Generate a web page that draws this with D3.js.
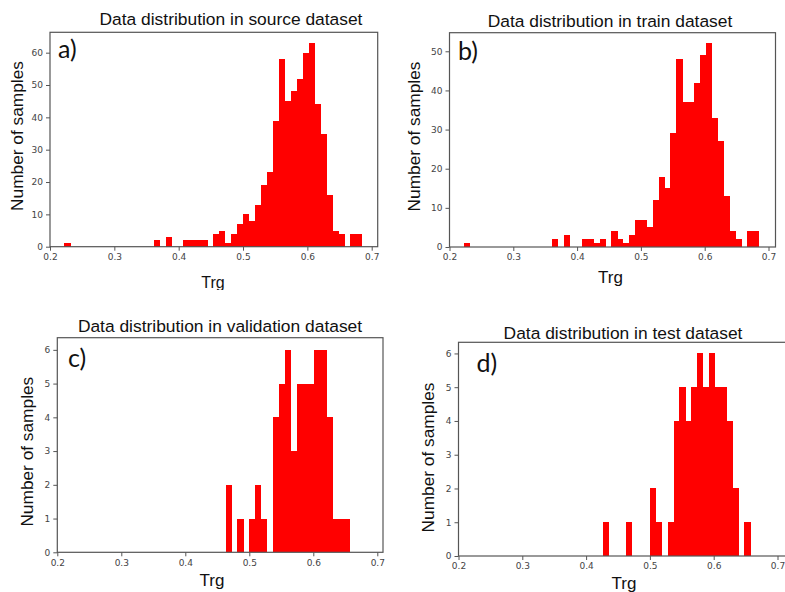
<!DOCTYPE html>
<html>
<head>
<meta charset="utf-8">
<script src="https://cdn.jsdelivr.net/npm/d3@7"></script>
<style>
  body { margin: 0; background: #fff; }
  svg { display: block; }
</style>
</head>
<body>
<svg id="chart" width="785" height="592"></svg>
<script>
// Shared histogram bins (50 equal bins over the source range of Trg)
const binStart = 0.2222;
const binWidth = 0.00926;

// Counts per bin for each dataset
const sourceCounts = [1,0,0,0,0,0,0,0,0,0, 0,0,0,0,0,2,0,3,0,0, 2,2,2,2,0,4,5,1,4,7, 10,8,13,19,23,39,58,45,48,52, 60,63,44,35,16,5,4,0,4,4];
const trainCounts  = [1,0,0,0,0,0,0,0,0,0, 0,0,0,0,0,2,0,3,0,0, 2,2,1,2,0,4,2,1,3,7, 7,5,12,18,15,29,48,37,37,42, 49,52,33,27,13,4,2,0,4,4];
const validCounts  = [0,0,0,0,0,0,0,0,0,0, 0,0,0,0,0,0,0,0,0,0, 0,0,0,0,0,0,2,0,1,0, 1,2,1,0,4,5,6,3,5,5, 5,6,6,4,1,1,1,0,0,0];
const testCounts   = [0,0,0,0,0,0,0,0,0,0, 0,0,0,0,0,0,0,0,0,0, 0,0,1,0,0,0,1,0,0,0, 2,1,0,1,4,5,4,5,6,5, 6,5,5,4,2,0,1,0,0,0];

// Texts and tick values
const titles = [
  "Data distribution in source dataset",
  "Data distribution in train dataset",
  "Data distribution in validation dataset",
  "Data distribution in test dataset"
];
const panelLetters = ["a)", "b)", "c)", "d)"];
const xTickValues = [0.2, 0.3, 0.4, 0.5, 0.6, 0.7];
const yTicksSource = [0, 10, 20, 30, 40, 50, 60];
const yTicksTrain  = [0, 10, 20, 30, 40, 50];
const yTicksSmall  = [0, 1, 2, 3, 4, 5, 6];
const xLabel = "Trg";
const yLabel = "Number of samples";

// Panel placement on the page
const layout = [
  { x02: 50,    x07: 371.7, right: 377.7, top: 32.3,  bottom: 246.7, yMax: 66.3,
    title: [231, 25],  letter: [58, 58],   ylab: [17, 136],    xlab: [213, 288, 16], clipBottom: 290 },
  { x02: 449.5, x07: 768.5, right: 775.5, top: 32.7,  bottom: 247,   yMax: 54.75,
    title: [610, 27.3], letter: [458, 60], ylab: [413.5, 136.5], xlab: [610.5, 282.7, 17] },
  { x02: 57.3,  x07: 377.3, right: 383,   top: 337.7, bottom: 552.3, yMax: 6.36,
    title: [220, 332], letter: [68, 366.5], ylab: [26.7, 451.7], xlab: [212, 585.5, 17] },
  { x02: 458.5, x07: 777.5, right: 790,   top: 342.3, bottom: 556,   yMax: 6.33,
    title: [623, 339], letter: [476.5, 371.5], ylab: [428.3, 457.5], xlab: [624, 589, 17] }
];

const panels = [
  { counts: sourceCounts, yTicks: yTicksSource },
  { counts: trainCounts,  yTicks: yTicksTrain },
  { counts: validCounts,  yTicks: yTicksSmall },
  { counts: testCounts,   yTicks: yTicksSmall }
].map((p, i) => Object.assign({}, p, layout[i], { titleText: titles[i], letterText: panelLetters[i] }));

const svg = d3.select("#chart");
const defs = svg.append("defs");

const textFont = "'Liberation Sans', Arial, sans-serif";
const tickFont = "'DejaVu Sans', sans-serif";

panels.forEach((p, idx) => {
  let g = svg.append("g");
  if (p.clipBottom) {
    defs.append("clipPath").attr("id", "clip" + idx)
      .append("rect").attr("x", 0).attr("y", 0).attr("width", 400).attr("height", p.clipBottom);
    g.attr("clip-path", `url(#clip${idx})`);
  }

  const x = d3.scaleLinear().domain([0.2, 0.7]).range([p.x02, p.x07]);
  const y = d3.scaleLinear().domain([0, p.yMax]).range([p.bottom, p.top]);

  const bins = p.counts.map((c, i) => ({
    x0: binStart + i * binWidth,
    x1: binStart + (i + 1) * binWidth,
    count: c
  })).filter(b => b.count > 0);

  // histogram bars
  g.append("g").selectAll("rect").data(bins).join("rect")
    .attr("x", d => x(d.x0))
    .attr("width", d => x(d.x1) - x(d.x0) + 0.3)
    .attr("y", d => y(d.count))
    .attr("height", d => y(0) - y(d.count))
    .attr("fill", "#ff0000")
    .attr("shape-rendering", "crispEdges");

  // x axis
  const xAxis = g.append("g")
    .attr("transform", `translate(0,${p.bottom})`)
    .call(d3.axisBottom(x).tickValues(xTickValues).tickFormat(d3.format(".1f")).tickSize(4).tickPadding(3));
  // y axis
  const yAxis = g.append("g")
    .attr("transform", `translate(${p.x02},0)`)
    .call(d3.axisLeft(y).tickValues(p.yTicks).tickFormat(d3.format("d")).tickSize(4).tickPadding(3));

  [xAxis, yAxis].forEach(ax => {
    ax.select(".domain").remove();
    ax.selectAll(".tick line").attr("stroke", "#555");
    ax.selectAll(".tick text")
      .attr("fill", "#444")
      .style("font-family", tickFont)
      .style("font-size", "9px");
  });

  // frame
  g.append("rect")
    .attr("x", p.x02).attr("y", p.top)
    .attr("width", p.right - p.x02).attr("height", p.bottom - p.top)
    .attr("fill", "none").attr("stroke", "#555").attr("stroke-width", 1.2);

  // title
  g.append("text")
    .attr("x", p.title[0]).attr("y", p.title[1])
    .attr("text-anchor", "middle")
    .style("font-family", textFont).style("font-size", "17.4px")
    .attr("fill", "#111")
    .text(p.titleText);

  // panel letter
  g.append("text")
    .attr("x", p.letter[0]).attr("y", p.letter[1])
    .style("font-family", "Lato, 'Open Sans', sans-serif").style("font-size", "25px")
    .attr("fill", "#111")
    .text(p.letterText);

  // y label
  g.append("text")
    .attr("transform", `translate(${p.ylab[0]},${p.ylab[1]}) rotate(-90)`)
    .attr("text-anchor", "middle")
    .attr("dy", "0.35em")
    .style("font-family", textFont).style("font-size", "17.3px")
    .attr("fill", "#111")
    .text(yLabel);

  // x label
  g.append("text")
    .attr("x", p.xlab[0]).attr("y", p.xlab[1])
    .attr("text-anchor", "middle")
    .style("font-family", textFont).style("font-size", p.xlab[2] + "px")
    .attr("fill", "#111")
    .text(xLabel);
});
</script>
</body>
</html>
